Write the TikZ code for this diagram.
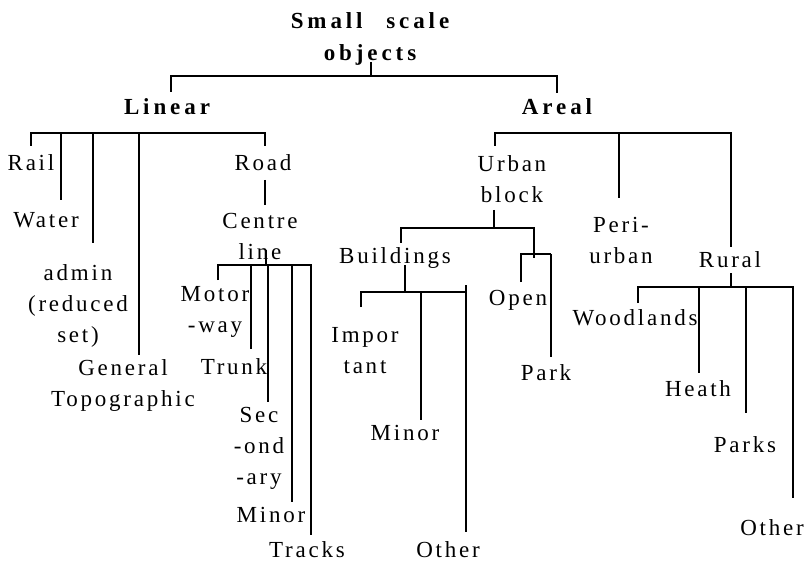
\documentclass[tikz,border=0pt]{standalone}
\usepackage{fontspec}
\setmainfont{Liberation Serif}[LetterSpace=12]
\newfontfamily\titlefont{Liberation Serif}[LetterSpace=17]
\begin{document}
\begin{tikzpicture}[x=1pt,y=-1pt,
  lbl/.style={font=\fontsize{23}{31}\selectfont, align=center, inner sep=0pt},
  ttl/.style={font=\titlefont\bfseries\fontsize{23}{32}\selectfont, align=center, inner sep=0pt},
  ln/.style={line width=1.7pt},
  thk/.style={line width=2.6pt}]
\useasboundingbox (0,0) rectangle (806,564);
% nodes
\node[ttl] (title) at (370,39) {Small\hspace{14pt} scale\\objects};
\node[ttl] (linear) at (167,107) {Linear};
\node[ttl] (areal) at (557,107) {Areal};
\node[lbl] (rail) at (31,163) {Rail};
\node[lbl] (water) at (46,220) {Water};
\node[lbl] (admin) at (78,306) {admin\\(reduced\\set)};
\node[lbl] (general) at (123,386) {General\\Topographic};
\node[lbl] (road) at (263,163) {Road};
\node[lbl] (centre) at (260,236) {Centre\\line};
\node[lbl] (motor) at (215,312) {Motor\\-way};
\node[lbl] (trunk) at (234,367) {Trunk};
\node[lbl] (sec) at (259,448) {Sec\\-ond\\-ary};
\node[lbl] (minorR) at (271,515) {Minor};
\node[lbl] (tracks) at (307,550) {Tracks};
\node[lbl] (urban) at (512,179) {Urban\\block};
\node[lbl] (bldg) at (395,258) {Buildings};
\node[lbl] (open) at (518,300) {Open};
\node[lbl] (park) at (546,373) {Park};
\node[lbl] (impor) at (365,351) {Impor\\tant};
\node[lbl] (minorB) at (405,433) {Minor};
\node[lbl] (otherB) at (448,550) {Other};
\node[lbl] (peri) at (621,240) {Peri-\\urban};
\node[lbl] (rural) at (730,260) {Rural};
\node[lbl] (wood) at (635,318) {Woodlands};
\node[lbl] (heath) at (698,389) {Heath};
\node[lbl] (parks) at (745,445) {Parks};
\node[lbl] (otherR) at (772,528) {Other};
% top level
\draw[ln] (371,62) -- (371,76);
\draw[ln] (171,92) -- (171,76) -- (557,76) -- (557,93);
% linear
\draw[ln] (31,146) -- (31,133) -- (265,133) -- (265,146);
\draw[ln] (61,133) -- (61,200);
\draw[ln] (93,133) -- (93,243);
\draw[ln] (139,133) -- (139,355);
\draw[ln] (265,180) -- (265,205);
% centre line
\draw[ln] (266,250) -- (266,265);
\draw[ln] (218,280) -- (218,265) -- (311,265) -- (311,535);
\draw[ln] (251,265) -- (251,349);
\draw[ln] (268,265) -- (268,402);
\draw[ln] (292,265) -- (292,502);
% areal
\draw[ln] (495,146) -- (495,133) -- (731,133) -- (731,247);
\draw[ln] (619,133) -- (619,198);
% urban block
\draw[ln] (494,210) -- (494,228);
\draw[ln] (401,243) -- (401,228) -- (534,228) -- (534,258);
\draw[thk] (521,282) -- (521,254) -- (551,254);
\draw[ln] (551,254) -- (551,357);
% buildings
\draw[ln] (405,265) -- (405,292);
\draw[thk] (361,307) -- (361,292) -- (466,292);
\draw[ln] (421,292) -- (421,420);
\draw[ln] (466,285) -- (466,532);
% rural
\draw[ln] (731,273) -- (731,287);
\draw[ln] (638,303) -- (638,287) -- (793,287) -- (793,498);
\draw[ln] (699,287) -- (699,373);
\draw[ln] (746,287) -- (746,413);
\end{tikzpicture}
\end{document}
